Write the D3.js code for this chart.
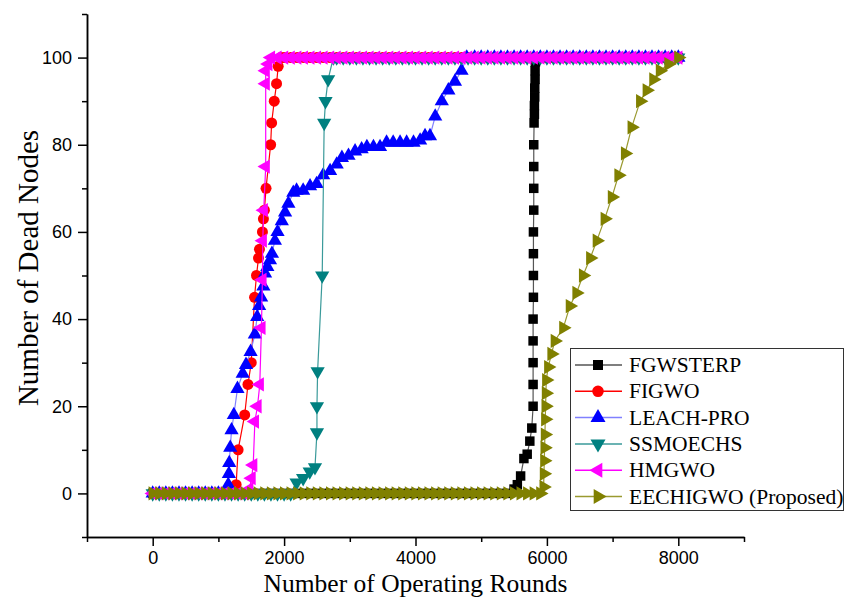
<!DOCTYPE html>
<html>
<head>
<meta charset="utf-8">
<script src="https://cdn.jsdelivr.net/npm/d3@7"></script>
<style>
body { margin: 0; background: #fff; }
.axis path, .axis line { stroke: #000; stroke-width: 1.5px; }
.axis text { font-family: "Liberation Sans", Arial, sans-serif; font-size: 18px; fill: #000; }
.title { font-family: "Liberation Serif", "Times New Roman", serif; fill: #000; }
</style>
</head>
<body>
<svg id="chart" width="844" height="601"></svg>
<script>
// [round, dead nodes]
const fgwsterp = [
  [0,0],[100,0],[200,0],[300,0],[400,0],[500,0],[600,0],[700,0],[800,0],[900,0],
  [1000,0],[1100,0],[1200,0],[1300,0],[1400,0],[1500,0],[1600,0],[1700,0],[1800,0],[1900,0],
  [2000,0],[2100,0],[2200,0],[2300,0],[2400,0],[2500,0],[2600,0],[2700,0],[2800,0],[2900,0],
  [3000,0],[3100,0],[3200,0],[3300,0],[3400,0],[3500,0],[3600,0],[3700,0],[3800,0],[3900,0],
  [4000,0],[4100,0],[4200,0],[4300,0],[4400,0],[4500,0],[4600,0],[4700,0],[4800,0],[4900,0],
  [5000,0],[5100,0],[5200,0],[5300,0],[5400,0],
  [5500,1],[5550,2],[5600,4],[5650,8],[5700,9],[5740,12],[5770,15],[5790,20],[5790,25],[5790,30],
  [5790,35],[5790,40],[5795,45],[5795,50],[5795,55],[5795,60],[5800,65],[5800,70],[5800,75],[5800,80],
  [5805,85],[5810,87],[5810,89],[5815,91],[5815,93],[5820,95],[5820,97],[5825,99],[5830,100],
  [5900,100],[6000,100],[6100,100],[6200,100],[6300,100],[6400,100],[6500,100],[6600,100],[6700,100],[6800,100],
  [6900,100],[7000,100],[7100,100],[7200,100],[7300,100],[7400,100],[7500,100],[7600,100],[7700,100],[7800,100],
  [7900,100],[8000,100]
];

const figwo = [
  [0,0],[100,0],[200,0],[300,0],[400,0],[500,0],[600,0],[700,0],[800,0],[900,0],
  [1000,0],[1100,0],[1200,0],
  [1270,2],[1300,10],[1400,18],[1450,25],[1500,30],[1550,45],[1580,50],[1610,54],[1625,56],[1670,60],
  [1685,63],[1700,65],[1725,70],[1795,80],[1810,85],[1850,90],[1885,94],[1910,98],[1950,100],
  [2000,100],[2100,100],[2200,100],[2300,100],[2400,100],[2500,100],[2600,100],[2700,100],[2800,100],[2900,100],
  [3000,100],[3100,100],[3200,100],[3300,100],[3400,100],[3500,100],[3600,100],[3700,100],[3800,100],[3900,100],
  [4000,100],[4100,100],[4200,100],[4300,100],[4400,100],[4500,100],[4600,100],[4700,100],[4800,100],[4900,100],
  [5000,100],[5100,100],[5200,100],[5300,100],[5400,100],[5500,100],[5600,100],[5700,100],[5800,100],[5900,100],
  [6000,100],[6100,100],[6200,100],[6300,100],[6400,100],[6500,100],[6600,100],[6700,100],[6800,100],[6900,100],
  [7000,100],[7100,100],[7200,100],[7300,100],[7400,100],[7500,100],[7600,100],[7700,100],[7800,100],[7900,100],
  [8000,100]
];

const leachPro = [
  [0,0],[100,0],[200,0],[300,0],[400,0],[500,0],[600,0],[700,0],[800,0],[900,0],
  [1000,0],[1100,0],
  [1150,2],[1160,4.5],[1165,7],[1180,10.5],[1200,14.5],[1235,18],[1290,24],[1370,27.5],[1420,29.5],[1490,32.5],
  [1555,36.5],[1590,40.5],[1620,43],[1650,45],[1685,47.5],[1710,50.5],[1745,52],[1785,53.5],[1815,55],[1860,58],
  [1900,60],[1965,62.5],[2015,64.5],[2065,66.5],[2140,69],[2190,69.5],[2290,69.5],[2395,70.5],[2495,71],[2595,73],
  [2700,74],[2800,75.5],[2880,77],[2980,77.5],[3080,78.5],[3180,79],[3260,79.5],[3360,79.5],[3460,79.5],[3560,80.5],
  [3660,80.5],[3765,80.5],[3865,80.5],[3970,80.5],[4070,81],[4145,82],[4220,82],[4300,86.5],[4400,90],[4500,92.5],
  [4600,94.5],[4700,97],[4780,100],
  [4900,100],[5000,100],[5100,100],[5200,100],[5300,100],[5400,100],[5500,100],[5600,100],[5700,100],[5800,100],
  [5900,100],[6000,100],[6100,100],[6200,100],[6300,100],[6400,100],[6500,100],[6600,100],[6700,100],[6800,100],
  [6900,100],[7000,100],[7100,100],[7200,100],[7300,100],[7400,100],[7500,100],[7600,100],[7700,100],[7800,100],
  [7900,100],[8000,100]
];

const ssmoechs = [
  [0,0],[100,0],[200,0],[300,0],[400,0],[500,0],[600,0],[700,0],[800,0],[900,0],
  [1000,0],[1100,0],[1200,0],[1300,0],[1400,0],[1500,0],[1600,0],[1700,0],[1800,0],[1900,0],
  [2000,0],[2100,0],
  [2190,2.5],[2290,3.5],[2390,5],[2470,6],[2500,14],[2500,20],[2510,28],[2580,50],[2610,85],[2630,90],
  [2670,95],[2750,100],
  [2800,100],[2900,100],[3000,100],[3100,100],[3200,100],[3300,100],[3400,100],[3500,100],[3600,100],[3700,100],
  [3800,100],[3900,100],[4000,100],[4100,100],[4200,100],[4300,100],[4400,100],[4500,100],[4600,100],[4700,100],
  [4800,100],[4900,100],[5000,100],[5100,100],[5200,100],[5300,100],[5400,100],[5500,100],[5600,100],[5700,100],
  [5800,100],[5900,100],[6000,100],[6100,100],[6200,100],[6300,100],[6400,100],[6500,100],[6600,100],[6700,100],
  [6800,100],[6900,100],[7000,100],[7100,100],[7200,100],[7300,100],[7400,100],[7500,100],[7600,100],[7700,100],
  [7800,100],[7900,100],[8000,100]
];

const hmgwo = [
  [0,0],[100,0],[200,0],[300,0],[400,0],[500,0],[600,0],[700,0],[800,0],[900,0],
  [1000,0],[1100,0],[1200,0],[1300,0],[1400,0],
  [1470,1],[1505,3.5],[1530,6.5],[1555,16.5],[1595,20],[1630,25],[1655,38],[1670,49],[1675,58],[1690,65],
  [1720,75],[1720,94],[1720,97],[1760,98.5],[1800,100],
  [1900,100],[2000,100],[2100,100],[2200,100],[2300,100],[2400,100],[2500,100],[2600,100],[2700,100],[2800,100],
  [2900,100],[3000,100],[3100,100],[3200,100],[3300,100],[3400,100],[3500,100],[3600,100],[3700,100],[3800,100],
  [3900,100],[4000,100],[4100,100],[4200,100],[4300,100],[4400,100],[4500,100],[4600,100],[4700,100],[4800,100],
  [4900,100],[5000,100],[5100,100],[5200,100],[5300,100],[5400,100],[5500,100],[5600,100],[5700,100],[5800,100],
  [5900,100],[6000,100],[6100,100],[6200,100],[6300,100],[6400,100],[6500,100],[6600,100],[6700,100],[6800,100],
  [6900,100],[7000,100],[7100,100],[7200,100],[7300,100],[7400,100],[7500,100],[7600,100],[7700,100],[7800,100],
  [7900,100],[8000,100]
];

const eechigwo = [
  [0,0],[100,0],[200,0],[300,0],[400,0],[500,0],[600,0],[700,0],[800,0],[900,0],
  [1000,0],[1100,0],[1200,0],[1300,0],[1400,0],[1500,0],[1600,0],[1700,0],[1800,0],[1900,0],
  [2000,0],[2100,0],[2200,0],[2300,0],[2400,0],[2500,0],[2600,0],[2700,0],[2800,0],[2900,0],
  [3000,0],[3100,0],[3200,0],[3300,0],[3400,0],[3500,0],[3600,0],[3700,0],[3800,0],[3900,0],
  [4000,0],[4100,0],[4200,0],[4300,0],[4400,0],[4500,0],[4600,0],[4700,0],[4800,0],[4900,0],
  [5000,0],[5100,0],[5200,0],[5300,0],[5400,0],[5500,0],[5600,0],[5700,0],[5800,0],[5900,0],
  [5950,1.5],[5955,4.5],[5960,7.5],[5965,10.5],[5970,13.5],[5975,17],[5980,20],[5985,23],[5990,26],[6020,29],
  [6070,32],[6120,35],[6250,38],[6350,43],[6450,46],[6550,50],[6660,54],[6760,58],[6880,63],[6990,68],
  [7090,73],[7190,78],[7290,84],[7420,90],[7520,92.5],[7620,95],[7720,97],[7850,98.5],[8000,100]
];

const seriesNames = ["FGWSTERP", "FIGWO", "LEACH-PRO", "SSMOECHS", "HMGWO", "EECHIGWO (Proposed)"];
const seriesData = [fgwsterp, figwo, leachPro, ssmoechs, hmgwo, eechigwo];
const markerColors = ["#000000", "#ff0000", "#0000ff", "#008080", "#ff00ff", "#808000"];
const lineColors = ["#555555", "#ff0000", "#8080ff", "#3a9a9a", "#ff00ff", "#9a9a30"];

const xTicks = [0, 2000, 4000, 6000, 8000];
const xMinorTicks = [-1000, 1000, 3000, 5000, 7000, 9000];
const yTicks = [0, 20, 40, 60, 80, 100];
const yMinorTicks = [-10, 10, 30, 50, 70, 90, 110];

const svg = d3.select("#chart");
svg.append("rect").attr("width", 844).attr("height", 601).attr("fill", "#fff");

const xScale = d3.scaleLinear().domain([-1000, 9000]).range([87, 744]);
const yScale = d3.scaleLinear().domain([-10, 110]).range([537, 14]);

// markers: square, circle, up / down / left / right triangles
const symbols = [
  { type: d3.symbolSquare, size: 90, rot: 0 },
  { type: d3.symbolCircle, size: 95, rot: 0 },
  { type: d3.symbolTriangle, size: 88, rot: 0 },
  { type: d3.symbolTriangle, size: 88, rot: 180 },
  { type: d3.symbolTriangle, size: 88, rot: -90 },
  { type: d3.symbolTriangle, size: 88, rot: 90 }
];

// axes
svg.append("g")
    .attr("class", "axis")
    .attr("transform", "translate(0,537)")
    .call(d3.axisBottom(xScale).tickValues(xTicks).tickFormat(d3.format("d")).tickSize(9).tickSizeOuter(0).tickPadding(5))
svg.append("g")
    .attr("class", "axis")
    .attr("transform", "translate(0,537)")
    .call(d3.axisBottom(xScale).tickValues(xMinorTicks).tickSize(5).tickSizeOuter(0).tickFormat(""))

svg.append("g")
    .attr("class", "axis")
    .attr("transform", "translate(87,0)")
    .call(d3.axisLeft(yScale).tickValues(yTicks).tickFormat(d3.format("d")).tickSize(9).tickSizeOuter(0).tickPadding(6))
svg.append("g")
    .attr("class", "axis")
    .attr("transform", "translate(87,0)")
    .call(d3.axisLeft(yScale).tickValues(yMinorTicks).tickSize(5).tickSizeOuter(0).tickFormat(""))

svg.append("text")
    .attr("class", "title")
    .attr("x", xScale(4000))
    .attr("y", 592)
    .attr("text-anchor", "middle")
    .style("font-size", "25.5px")
    .text("Number of Operating Rounds");

svg.append("text")
    .attr("class", "title")
    .attr("transform", "translate(38,268) rotate(-90)")
    .attr("text-anchor", "middle")
    .style("font-size", "29px")
    .text("Number of Dead Nodes");

// series
const line = d3.line()
    .x(function(d) { return xScale(d[0]); })
    .y(function(d) { return yScale(d[1]); });

seriesData.forEach(function(data, i) {
  const g = svg.append("g");
  g.append("path")
      .datum(data)
      .attr("fill", "none")
      .attr("stroke", lineColors[i])
      .attr("stroke-width", 1.2)
      .attr("d", line);
  g.selectAll(".mark")
      .data(data)
      .enter().append("path")
      .attr("class", "mark")
      .attr("fill", markerColors[i])
      .attr("d", d3.symbol().type(symbols[i].type).size(symbols[i].size))
      .attr("transform", function(d) {
        return `translate(${xScale(d[0])},${yScale(d[1])}) rotate(${symbols[i].rot})`;
      });
});

// legend
const legend = svg.append("g");
legend.append("rect")
    .attr("x", 570.5).attr("y", 348.5)
    .attr("width", 273).attr("height", 162)
    .attr("fill", "#fff")
    .attr("stroke", "#333")
    .attr("stroke-width", 1);

seriesNames.forEach(function(name, i) {
  const cy = 365 + i * 26.3;
  legend.append("line")
      .attr("x1", 575).attr("x2", 622)
      .attr("y1", cy).attr("y2", cy)
      .attr("stroke", lineColors[i])
      .attr("stroke-width", 1.5);
  legend.append("path")
      .attr("fill", markerColors[i])
      .attr("d", d3.symbol().type(symbols[i].type).size(symbols[i].size + 10))
      .attr("transform", `translate(598,${cy}) rotate(${symbols[i].rot})`);
  legend.append("text")
      .attr("class", "title")
      .attr("x", 629)
      .attr("y", cy + 7)
      .style("font-size", "21.5px")
      .text(name);
});
</script>
</body>
</html>
